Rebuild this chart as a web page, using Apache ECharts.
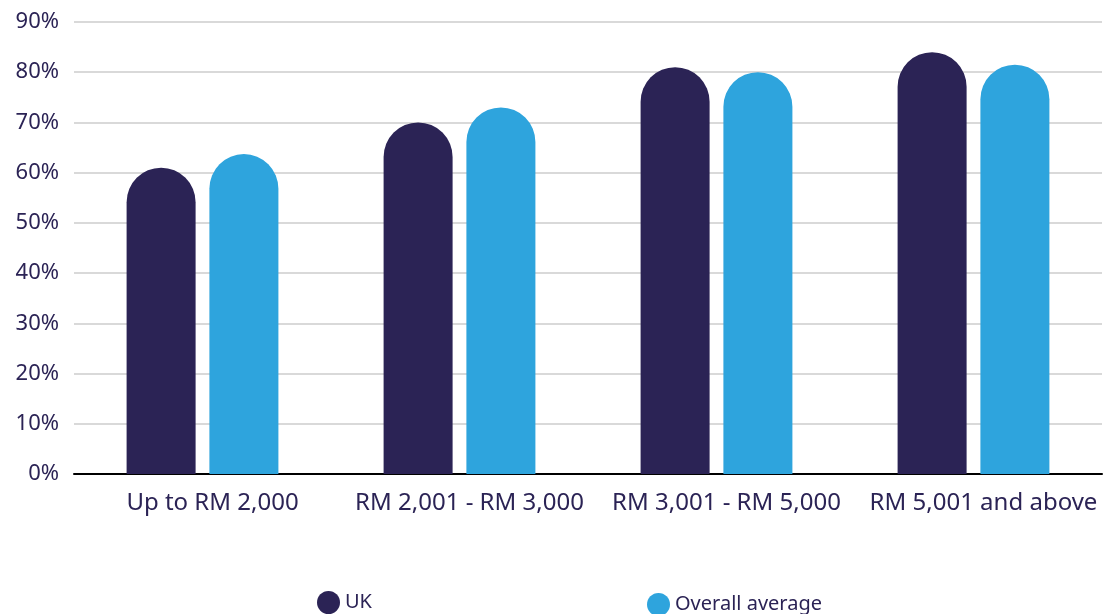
<!DOCTYPE html>
<html>
<head>
<meta charset="utf-8">
<script src="https://cdn.jsdelivr.net/npm/echarts@6/dist/echarts.min.js"></script>
<style>
  html, body { margin: 0; padding: 0; background: #fff; }
  #chart { width: 1103px; height: 614px; }
</style>
</head>
<body>
<div id="chart"></div>
<script>
var categories = ['Up to RM 2,000', 'RM 2,001 - RM 3,000', 'RM 3,001 - RM 5,000', 'RM 5,001 and above']
var ukValues = [61, 70, 81, 84]
var overallValues = [63.7, 73, 80, 81.5]
var yTicks = [0, 10, 20, 30, 40, 50, 60, 70, 80, 90]

var navy = '#2b2355'
var blue = '#2ea4dd'
var font = 'Noto Sans'

var chart = echarts.init(document.getElementById('chart'))

var option = {
  animation: false,
  textStyle: { fontFamily: font },
  grid: {
    left: 74,
    right: 1,
    top: 22,
    bottom: 140
  },
  legend: [
    {
      data: ['UK'],
      left: 312,
      top: 586,
      icon: 'circle',
      itemWidth: 23,
      itemHeight: 23,
      itemGap: 8,
      textStyle: { color: navy, fontSize: 20, fontFamily: font }
    },
    {
      data: ['Overall average'],
      left: 642,
      top: 588,
      icon: 'circle',
      itemWidth: 23,
      itemHeight: 23,
      textStyle: { color: navy, fontSize: 20, fontFamily: font }
    }
  ],
  xAxis: {
    type: 'category',
    data: categories,
    axisLine: { lineStyle: { color: '#000', width: 2 } },
    axisTick: { show: false },
    axisLabel: {
      color: navy,
      fontSize: 24,
      margin: 17,
      interval: 0,
      padding: [0, 0, 0, 20]
    }
  },
  yAxis: {
    type: 'value',
    min: 0,
    max: 90,
    interval: 10,
    axisLine: { show: false },
    axisTick: { show: false },
    splitLine: { lineStyle: { color: '#d9d9d9', width: 2 } },
    axisLabel: {
      color: navy,
      fontSize: 22,
      margin: 15,
      formatter: function (v) {
        return yTicks.indexOf(v) >= 0 ? v + '%' : ''
      }
    }
  },
  series: [
    {
      name: 'UK',
      type: 'bar',
      data: ukValues,
      barWidth: 69,
      barGap: '20%',
      itemStyle: { color: navy, borderRadius: [35, 35, 0, 0] }
    },
    {
      name: 'Overall average',
      type: 'bar',
      data: overallValues,
      barWidth: 69,
      itemStyle: { color: blue, borderRadius: [35, 35, 0, 0] }
    }
  ]
}
chart.setOption(option)
</script>
</body>
</html>
